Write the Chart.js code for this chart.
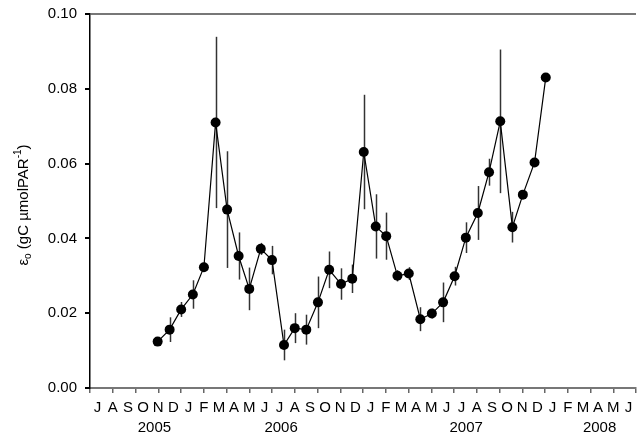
<!DOCTYPE html>
<html>
<head>
<meta charset="utf-8">
<script src="https://cdn.jsdelivr.net/npm/chart.js@4.4.1/dist/chart.umd.min.js"></script>
<style>
  body { margin: 0; background: #fff; }
</style>
</head>
<body>
<canvas id="grafico" width="641" height="438"></canvas>
<script>
// x position of each sample, in months since 1 Jul 2005
const sampleMonth = [4.46, 5.25, 6.01, 6.78, 7.51, 8.28, 9.04, 9.80, 10.50, 11.26,
  12.00, 12.79, 13.50, 14.26, 15.03, 15.77, 16.55, 17.29, 18.05, 18.84,
  19.53, 20.27, 21.02, 21.78, 22.54, 23.28, 24.04, 24.78, 25.57, 26.31,
  27.05, 27.85, 28.54, 29.31, 30.05];
// light use efficiency
const epsilon = [0.0124, 0.0156, 0.0210, 0.0250, 0.0323, 0.0710, 0.0477, 0.0353, 0.0265, 0.0372,
  0.0342, 0.0115, 0.0160, 0.0156, 0.0229, 0.0316, 0.0278, 0.0292, 0.0631, 0.0432,
  0.0406, 0.0300, 0.0306, 0.0184, 0.0199, 0.0229, 0.0299, 0.0402, 0.0468, 0.0577,
  0.0713, 0.0430, 0.0517, 0.0603, 0.0830];
const epsilonErr = [0.0010, 0.0033, 0.0020, 0.0038, 0.0010, 0.0229, 0.0156, 0.0063, 0.0057, 0.0016,
  0.0038, 0.0041, 0.0040, 0.0040, 0.0069, 0.0049, 0.0042, 0.0038, 0.0153, 0.0086,
  0.0063, 0.0015, 0.0017, 0.0032, 0.0013, 0.0053, 0.0025, 0.0041, 0.0072, 0.0036,
  0.0192, 0.0041, 0, 0, 0];

const monthLetters = ['J','A','S','O','N','D','J','F','M','A','M','J',
  'J','A','S','O','N','D','J','F','M','A','M','J',
  'J','A','S','O','N','D','J','F','M','A','M','J'];
const yearLabels = ['2005', '2006', '2007', '2008'];
const yearPos = [4.25, 12.6, 24.8, 33.6];

const FONT = 'Arial, "Liberation Sans", sans-serif';

const errorBars = {
  id: 'errorBars',
  beforeDatasetsDraw(chart) {
    const { ctx, scales: { x, y } } = chart;
    ctx.save();
    ctx.strokeStyle = '#333';
    ctx.lineWidth = 1.5;
    sampleMonth.forEach((m, i) => {
      if (!epsilonErr[i]) return;
      const px = Math.round(x.getPixelForValue(m)) + 0.5;
      ctx.beginPath();
      ctx.moveTo(px, y.getPixelForValue(epsilon[i] + epsilonErr[i]));
      ctx.lineTo(px, y.getPixelForValue(epsilon[i] - epsilonErr[i]));
      ctx.stroke();
    });
    ctx.restore();
  },
  afterDraw(chart) {
    const { ctx, scales: { x }, chartArea } = chart;
    ctx.save();
    ctx.fillStyle = '#000';
    ctx.textAlign = 'center';
    ctx.textBaseline = 'middle';
    ctx.font = '15px ' + FONT;
    monthLetters.forEach((l, i) => {
      ctx.fillText(l, x.getPixelForValue(i + 0.5), chartArea.bottom + 20);
    });
    yearLabels.forEach((l, i) => {
      ctx.fillText(l, x.getPixelForValue(yearPos[i]), chartArea.bottom + 40);
    });

    // y axis title with subscript and superscript
    const cy = (chartArea.top + chartArea.bottom) / 2 + 4;
    ctx.translate(24, cy);
    ctx.rotate(-Math.PI / 2);
    const parts = [
      { t: 'ε', f: '15px', dy: 0 },
      { t: 'o', f: '10px', dy: 4 },
      { t: ' (gC µmolPAR', f: '15px', dy: 0 },
      { t: '-1', f: '10px', dy: -6 },
      { t: ')', f: '15px', dy: 0 }
    ];
    let total = 0;
    parts.forEach(p => { ctx.font = p.f + ' ' + FONT; total += ctx.measureText(p.t).width; });
    let cx = -total / 2;
    ctx.textAlign = 'left';
    parts.forEach(p => {
      ctx.font = p.f + ' ' + FONT;
      ctx.fillText(p.t, cx, p.dy);
      cx += ctx.measureText(p.t).width;
    });
    ctx.restore();
  }
};

new Chart(document.getElementById('grafico').getContext('2d'), {
  type: 'line',
  data: {
    datasets: [{
      data: sampleMonth.map((m, i) => ({ x: m, y: epsilon[i] })),
      borderColor: '#000',
      borderWidth: 1.2,
      tension: 0,
      pointRadius: 5,
      pointBackgroundColor: '#000',
      pointBorderWidth: 0
    }]
  },
  options: {
    responsive: false,
    animation: false,
    layout: { padding: { top: 14, right: 0, left: 0, bottom: 0 } },
    plugins: { legend: { display: false }, tooltip: { enabled: false } },
    scales: {
      x: {
        type: 'linear',
        min: 0,
        max: 36,
        afterBuildTicks: (scale) => {
          scale.ticks = Array.from({ length: 25 }, (_, i) => ({ value: i * 1.5 }));
        },
        afterFit: (scale) => { scale.height = 50; scale.paddingLeft = 0; scale.paddingRight = 0; },
        ticks: { display: false },
        grid: { drawOnChartArea: false, tickLength: 5, tickColor: '#666', lineWidth: 1.5 },
        border: { color: '#777', width: 2 }
      },
      y: {
        min: 0,
        max: 0.1,
        afterFit: (scale) => { scale.width = 90; scale.paddingTop = 0; scale.paddingBottom = 0; },
        ticks: {
          stepSize: 0.02,
          callback: v => v.toFixed(2),
          color: '#000',
          font: { size: 15, family: FONT },
          padding: 8
        },
        grid: {
          drawOnChartArea: true,
          color: ctx => (ctx.tick && Math.abs(ctx.tick.value - 0.1) < 1e-9) ? '#777' : 'rgba(0,0,0,0)',
          lineWidth: 2,
          tickColor: '#000',
          tickLength: 5
        },
        border: { color: '#000', width: 1.5 }
      }
    }
  },
  plugins: [errorBars]
});
</script>
</body>
</html>
